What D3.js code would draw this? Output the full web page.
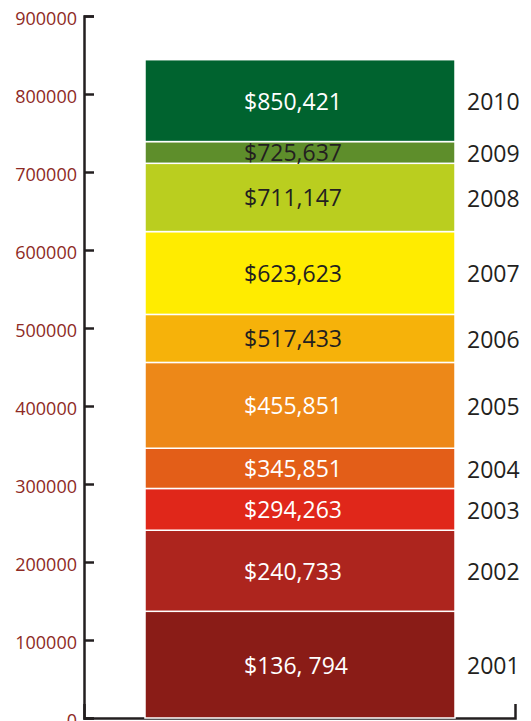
<!DOCTYPE html>
<html>
<head>
<meta charset="utf-8">
<script src="https://cdn.jsdelivr.net/npm/d3@7"></script>
<style>
  body { margin: 0; background: #fff; }
  svg { display: block; font-family: "Open Sans", sans-serif; }
</style>
</head>
<body>
<svg id="canvas" width="531" height="721"></svg>
<script>
let years = ["2001", "2002", "2003", "2004", "2005", "2006", "2007", "2008", "2009", "2010"];
let amounts = [136794, 240733, 294263, 345851, 455851, 517433, 623623, 711147, 725637, 850421];
let labels = ["$136, 794", "$240,733", "$294,263", "$345,851", "$455,851", "$517,433", "$623,623", "$711,147", "$725,637", "$850,421"];
// top edge of each block as drawn in the picture (2009/2010 are drawn off their values)
let barTops = [136794, 240733, 294263, 345851, 455851, 517433, 623623, 711147, 739000, 844000];
let colors = ["#8a1c17", "#ad251e", "#e0271a", "#e35e18", "#ed8818", "#f6b20a", "#ffec00", "#bace1f", "#5e8e2b", "#00632f"];
let labelColors = ["#fff", "#fff", "#fff", "#fff", "#fff", "#231f20", "#231f20", "#231f20", "#231f20", "#fff"];
let yTicks = [0, 100000, 200000, 300000, 400000, 500000, 600000, 700000, 800000, 900000];

let canvas = d3.select('#canvas');

let axisX = 84;
let baseY = 718;
let barLeft = 145;
let barRight = 455;

let y = d3.scaleLinear().domain([0, 900000]).range([baseY, 16]);

let rows = years.map((yr, i) => {
    return {
        year: yr,
        amount: amounts[i],
        label: labels[i],
        bottom: i === 0 ? 0 : barTops[i - 1],
        top: barTops[i],
        color: colors[i],
        textColor: labelColors[i]
    };
});

// y axis, ticks to the right, labels on the left
let yAxis = canvas.append('g')
    .attr('transform', 'translate(' + axisX + ',0)')
    .call(d3.axisRight(y).tickValues(yTicks).tickFormat(d3.format('d')).tickSizeInner(10).tickSizeOuter(10));

yAxis.select('.domain').attr('stroke', '#231f20').attr('stroke-width', 2.5);
yAxis.selectAll('.tick line').attr('stroke', '#231f20').attr('stroke-width', 2.5);
yAxis.selectAll('.tick text')
    .attr('x', -7)
    .attr('dy', '0.45em')
    .attr('text-anchor', 'end')
    .attr('fill', '#8e2a24')
    .style('font-size', '18px')
    .style('font-family', '"Open Sans", sans-serif');

// baseline with the little upturn at the right end
let xs = d3.scaleLinear().domain([0, 1]).range([axisX, 515]);
let xAxis = canvas.append('g')
    .attr('transform', 'translate(0,' + baseY + ')')
    .call(d3.axisTop(xs).tickValues([]).tickSizeOuter(14));
xAxis.select('.domain').attr('stroke', '#231f20').attr('stroke-width', 2.5);

// the blocks
canvas.selectAll('rect.block')
    .data(rows)
    .enter()
    .append('rect')
    .attr('class', 'block')
    .attr('x', barLeft)
    .attr('width', barRight - barLeft)
    .attr('y', (d) => y(d.top))
    .attr('height', (d) => y(d.bottom) - y(d.top))
    .attr('fill', (d) => d.color)
    .attr('stroke', '#fff')
    .attr('stroke-width', 1.5);

// amounts inside the blocks
canvas.selectAll('text.amount')
    .data(rows)
    .enter()
    .append('text')
    .attr('class', 'amount')
    .attr('x', 244)
    .attr('y', (d) => (y(d.top) + y(d.bottom)) / 2 + 9)
    .attr('fill', (d) => d.textColor)
    .style('font-size', '23px')
    .text((d) => d.label);

// year labels to the right
canvas.selectAll('text.year')
    .data(rows)
    .enter()
    .append('text')
    .attr('class', 'year')
    .attr('x', 467)
    .attr('y', (d) => (y(d.top) + y(d.bottom)) / 2 + 9.5)
    .attr('fill', '#231f20')
    .style('font-size', '23px')
    .text((d) => d.year);
</script>
</body>
</html>
